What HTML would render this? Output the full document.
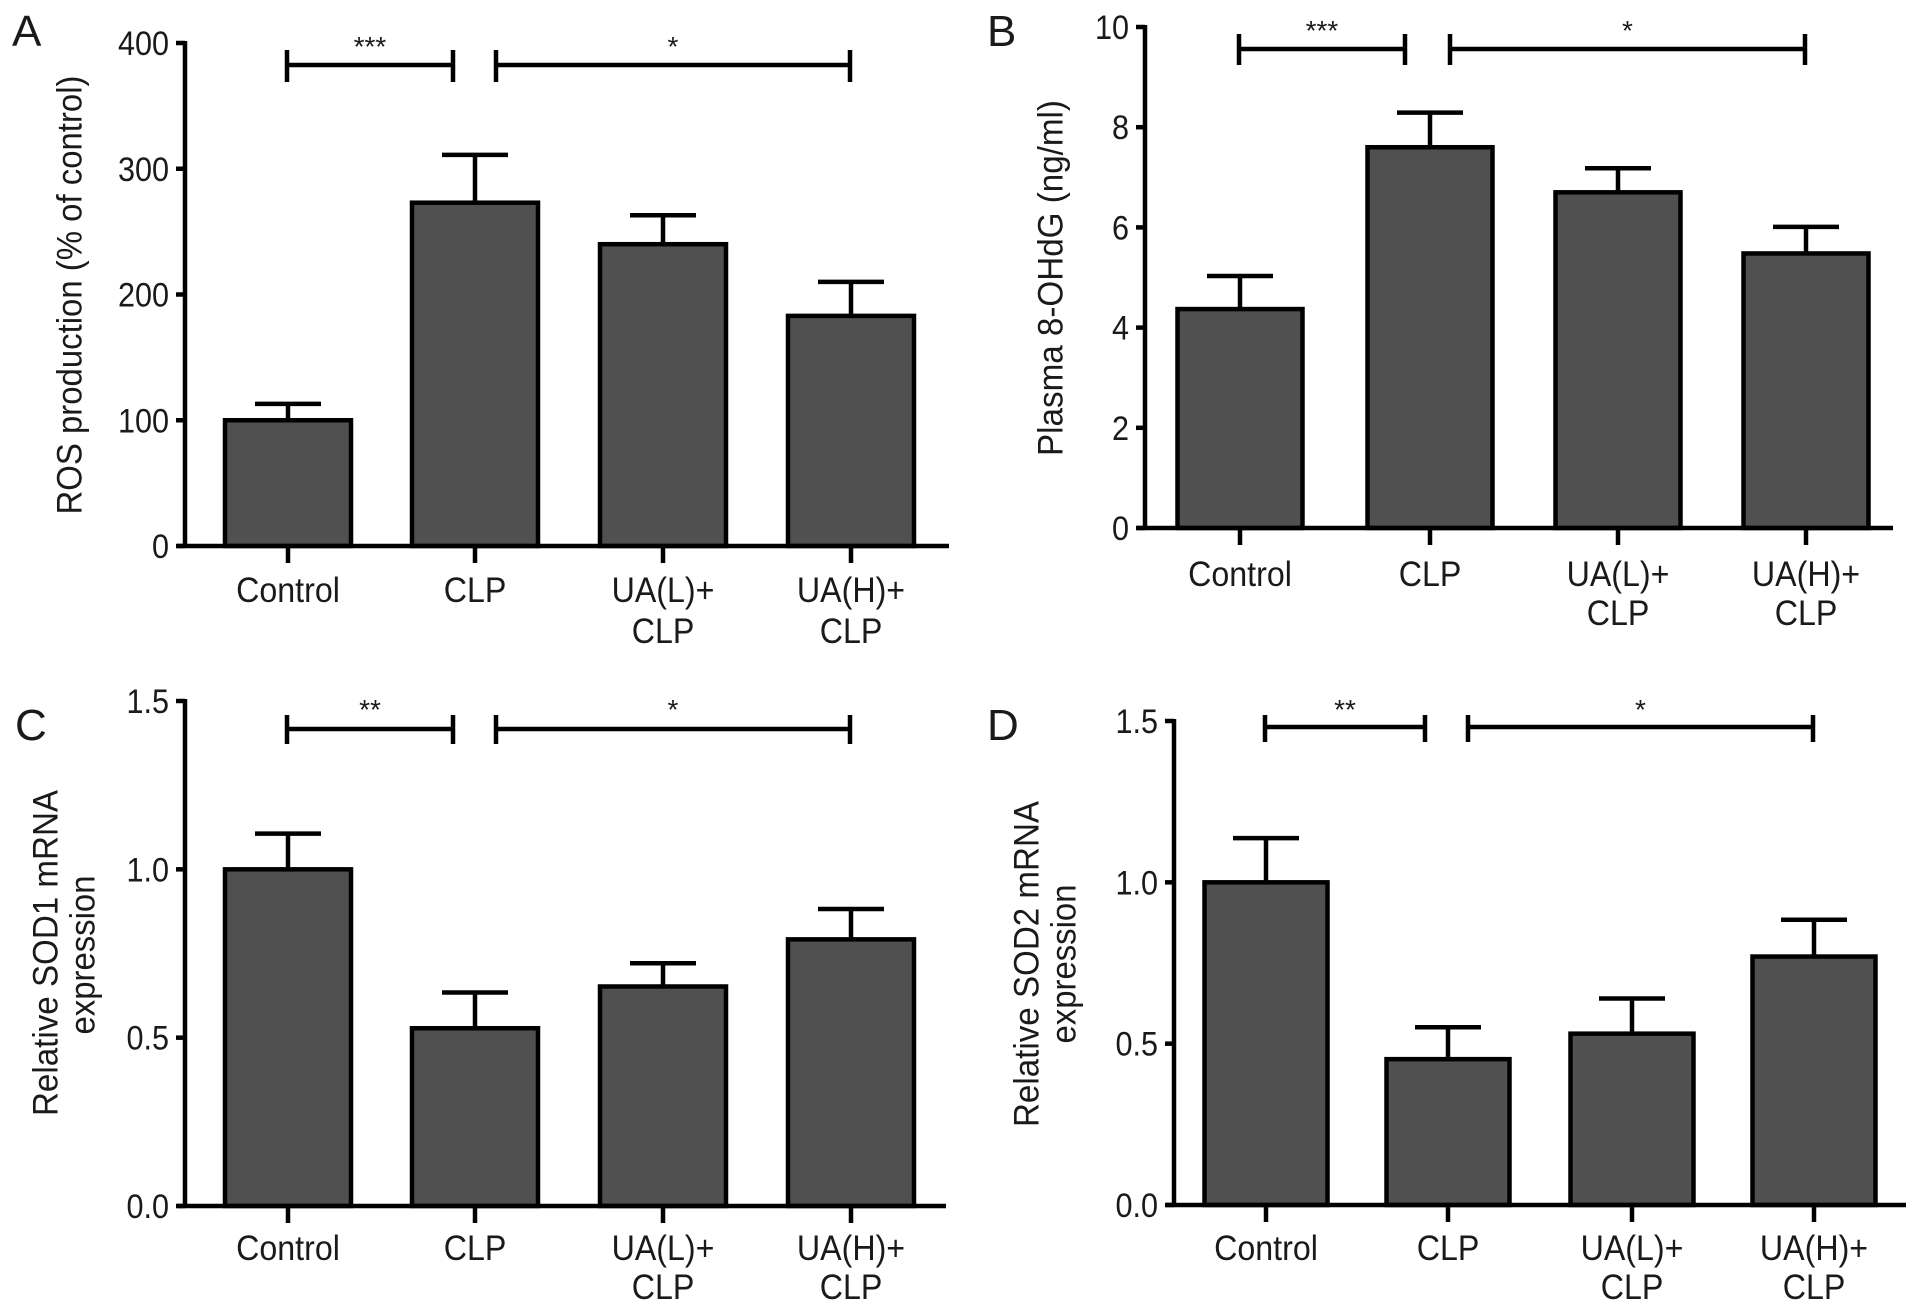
<!DOCTYPE html>
<html><head><meta charset="utf-8"><style>
html,body{margin:0;padding:0;background:#fff;}
svg{display:block;font-family:"Liberation Sans",Arial,sans-serif;}
</style></head><body>
<svg id="fig" width="1912" height="1312" viewBox="0 0 1912 1312" xmlns="http://www.w3.org/2000/svg"></svg>
<script>
// ---- data ----
const categories = ["Control","CLP","UA(L)+\nCLP","UA(H)+\nCLP"];
const rosValues = [100, 273, 240, 183];
const rosErrors = [13, 38, 23, 27];
const ohdgValues = [4.37, 7.60, 6.70, 5.48];
const ohdgErrors = [0.66, 0.69, 0.48, 0.53];
const sod1Values = [1.00, 0.528, 0.652, 0.792];
const sod1Errors = [0.106, 0.106, 0.069, 0.090];
const sod2Values = [1.00, 0.452, 0.531, 0.770];
const sod2Errors = [0.137, 0.099, 0.109, 0.114];
const rosTicks = [0,100,200,300,400];
const ohdgTicks = [0,2,4,6,8,10];
const sodTicks = [0,0.5,1.0,1.5];
const sigLabels = [["***","*"],["***","*"],["**","*"],["**","*"]];

const NS="http://www.w3.org/2000/svg";
const svg=document.getElementById('fig');
function mk(tag,attrs,parent){const e=document.createElementNS(NS,tag);for(const k in attrs)e.setAttribute(k,attrs[k]);(parent||svg).appendChild(e);return e;}
function ctext(parent,x,y,str,size,anchor,sx){
  const g=mk('g',{transform:`translate(${x},${y}) scale(${sx},1)`},parent);
  const t=mk('text',{x:0,y:0,'font-size':size,'text-anchor':anchor,fill:'#1a1a1a'},g);
  t.textContent=str;return t;
}

const panels=[
 {letter:"A",lx:12,ly:46,values:rosValues,errors:rosErrors,ticks:rosTicks,fmt:v=>String(v),max:400,
  ax:185,y0:546,yTop:43,xEnd:949,centers:[288,475,663,851],bw:126,
  bY:65,bT:50,bB:82,br1:[287,453],br2:[496,850],starY:56,cat1:602,cat2:643,
  titles:[{t:"ROS production (% of control)",x:70,y:295,len:439}],sig:0},
 {letter:"B",lx:987,ly:46,values:ohdgValues,errors:ohdgErrors,ticks:ohdgTicks,fmt:v=>String(v),max:10,
  ax:1145,y0:528,yTop:27,xEnd:1893,centers:[1240,1430,1618,1806],bw:125,
  bY:49,bT:34,bB:65,br1:[1239,1405],br2:[1450,1805],starY:40,cat1:586,cat2:625,
  titles:[{t:"Plasma 8-OHdG (ng/ml)",x:1051,y:278,len:356}],sig:1},
 {letter:"C",lx:15,ly:740,values:sod1Values,errors:sod1Errors,ticks:sodTicks,fmt:v=>v.toFixed(1),max:1.5,
  ax:185,y0:1206,yTop:701,xEnd:946,centers:[288,475,663,851],bw:126,
  bY:729,bT:715,bB:744,br1:[287,453],br2:[496,850],starY:719,cat1:1260,cat2:1299,
  titles:[{t:"Relative SOD1 mRNA",x:46,y:953,len:326},{t:"expression",x:83,y:955,len:159}],sig:2},
 {letter:"D",lx:987,ly:740,values:sod2Values,errors:sod2Errors,ticks:sodTicks,fmt:v=>v.toFixed(1),max:1.5,
  ax:1174,y0:1205,yTop:721,xEnd:1906,centers:[1266,1448,1632,1814],bw:123,
  bY:727,bT:715,bB:742,br1:[1265,1425],br2:[1468,1813],starY:719,cat1:1260,cat2:1299,
  titles:[{t:"Relative SOD2 mRNA",x:1027,y:964,len:326},{t:"expression",x:1064,y:964,len:159}],sig:3}
];

panels.forEach(p=>{
  const g=mk('g',{});
  
  
  const yS=v=>p.y0-(v/p.max)*(p.y0-p.yTop);
  const L=mk('text',{x:p.lx,y:p.ly,'font-size':44,fill:'#1a1a1a'},g);
  L.textContent=p.letter;
  
  
  p.values.forEach((v,i)=>{
    const cx=p.centers[i];
    const r=mk('rect',{x:cx-p.bw/2,y:yS(v),width:p.bw,height:p.y0-yS(v),fill:'#505050',stroke:'#000','stroke-width':4.5},g);
    
    
    const ey=yS(v+p.errors[i]);
    const eb=mk('path',{d:`M${cx},${yS(v)} V${ey} M${cx-33},${ey} H${cx+33}`,stroke:'#000','stroke-width':4.5,fill:'none'},g);
    
    
  });
  const ya=mk('line',{x1:p.ax,y1:p.yTop-2,x2:p.ax,y2:p.y0,stroke:'#000','stroke-width':4.5},g);
  
  
  const xa=mk('line',{x1:p.ax-8,y1:p.y0,x2:p.xEnd,y2:p.y0,stroke:'#000','stroke-width':4.5},g);
  
  
  p.ticks.forEach(t=>{
    const y=yS(t);
    mk('line',{x1:p.ax-9,y1:y,x2:p.ax,y2:y,stroke:'#000','stroke-width':4.5},g);
    const tl=ctext(g,p.ax-16,y+12,p.fmt(t),34,'end',0.9);
    
    
  });
  categories.forEach((c,i)=>{
    const cx=p.centers[i];
    mk('line',{x1:cx,y1:p.y0,x2:cx,y2:p.y0+17,stroke:'#000','stroke-width':4.5},g);
    c.split("\n").forEach((s,j)=>{
      const tl=ctext(g,cx,j?p.cat2:p.cat1,s,35,'middle',0.92);
      
      
    });
  });
  [p.br1,p.br2].forEach((b,k)=>{
    const br=mk('path',{d:`M${b[0]},${p.bT} V${p.bB} M${b[0]},${p.bY} H${b[1]} M${b[1]},${p.bT} V${p.bB}`,stroke:'#000','stroke-width':4.5,fill:'none'},g);
    
    
    const st=mk('text',{x:(b[0]+b[1])/2,y:p.starY,'font-size':28,'text-anchor':'middle',fill:'#1a1a1a'},g);
    st.textContent=sigLabels[p.sig][k];
    
    
  });
  p.titles.forEach(t=>{
    const tt=mk('text',{x:0,y:0,transform:`translate(${t.x},${t.y}) rotate(-90)`,'font-size':35,'text-anchor':'middle','dominant-baseline':'central',textLength:t.len,lengthAdjust:'spacingAndGlyphs',fill:'#1a1a1a'},g);
    tt.textContent=t.t;
    
    
  });
});
</script>
</body></html>
